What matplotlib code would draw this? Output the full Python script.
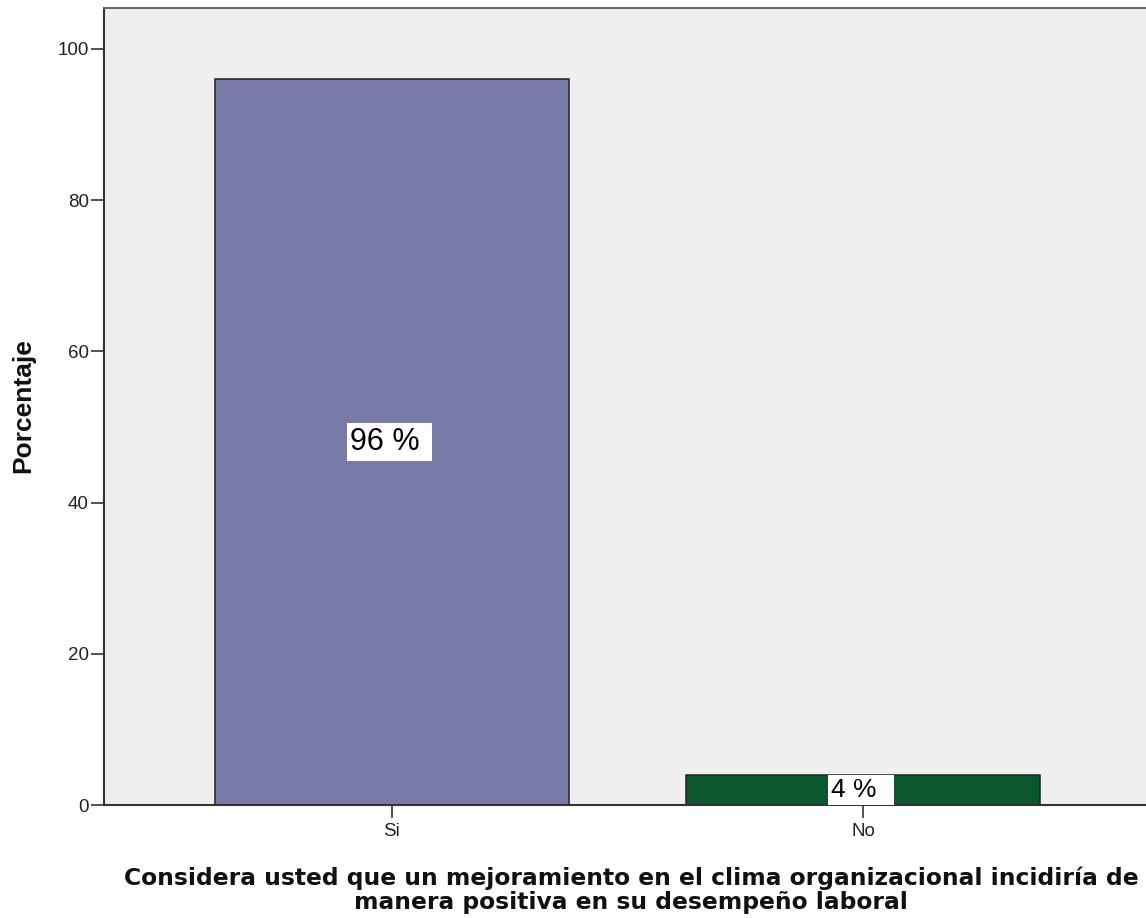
import matplotlib
matplotlib.use("Agg")
import matplotlib.pyplot as plt

categories = ["Si", "No"]
values = [96, 4]
labels = ["96 % ", "4 %  "]
colors = ["#7A7AA8", "#0B5730"]
yticks = [0, 20, 40, 60, 80, 100]

label_sizes = [22, 19]
label_pads = [0.12, 0.1]

W, H = 1146, 918
fig = plt.figure(figsize=(W / 100, H / 100), dpi=100)
ax = fig.add_axes([104 / W, 1 - 805 / H, (1151 - 104) / W, (805 - 8) / H])
ax.set_facecolor("#EFEFEF")
x = list(range(len(categories)))
ax.bar(x, values, width=0.752, color=colors, edgecolor="#222222", linewidth=1.1, zorder=2)
ax.set_xlim(-0.611, 1.611)
ax.set_ylim(0, 105.4)
ax.set_xticks(x)
ax.set_xticklabels(categories, fontsize=13.5, family="Liberation Sans", color="#222222")
ax.set_yticks(yticks)
ax.set_yticklabels([str(t) for t in yticks], fontsize=13.5, family="Liberation Sans", color="#222222")
ax.tick_params(axis="y", length=9.5, width=1.2, color="#333333", pad=1.5)
ax.tick_params(axis="x", length=9, width=1.2, color="#333333", pad=4)
ax.spines["right"].set_visible(False)
ax.spines["top"].set_color("#666666")
ax.spines["left"].set_color("#333333")
ax.spines["bottom"].set_color("#333333")
for s in ["left", "bottom", "top"]:
    ax.spines[s].set_linewidth(1.5)

for xi, v, lab, fs, pd in zip(x, values, labels, label_sizes, label_pads):
    ax.text(xi - 0.005, v / 2, lab, ha="center", va="center", fontsize=fs, family="Liberation Sans",
            color="black", clip_on=True,
            bbox=dict(facecolor="white", edgecolor="none", boxstyle=f"square,pad={pd}"), zorder=3)

fig.text(23 / W, 1 - 406 / H, "Porcentaje", rotation=90, ha="center", va="center",
         fontsize=19, fontweight="bold", family="Liberation Sans", color="#111111")
fig.text(631 / W, 1 - 866 / H,
         "Considera usted que un mejoramiento en el clima organizacional incidiría de\nmanera positiva en su desempeño laboral",
         ha="center", va="top", fontsize=16.8, fontweight="bold", family="DejaVu Sans",
         linespacing=1.1, color="#111111")

fig.savefig("out.png", dpi=100)
